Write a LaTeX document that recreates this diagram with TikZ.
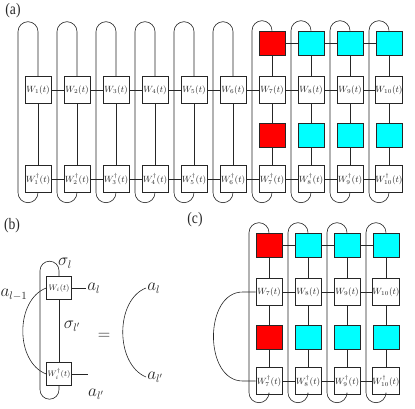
\documentclass[tikz,border=0pt]{standalone}
\usepackage{fontspec}
\newfontfamily\labfont{Liberation Serif}
\definecolor{boxred}{RGB}{255,0,0}
\definecolor{boxcyan}{RGB}{0,255,255}
\begin{document}
\begin{tikzpicture}[x=1pt,y=-1pt,line width=0.6pt,color=black!85,
  wbox/.style={draw,fill=white,minimum width=26pt,minimum height=27pt,inner sep=0pt,font=\fontsize{9}{10}\selectfont},
  bbox/.style={draw,fill=white,minimum width=25pt,minimum height=23pt,inner sep=0pt,font=\fontsize{8.5}{9}\selectfont},
  redbox/.style={draw,fill=boxred,minimum width=26pt,minimum height=24pt,inner sep=0pt},
  cybox/.style={draw,fill=boxcyan,minimum width=26pt,minimum height=24pt,inner sep=0pt},
  plab/.style={font=\labfont\fontsize{16}{18}\selectfont,inner sep=0pt},
  mlab/.style={font=\fontsize{16}{18}\selectfont,inner sep=1pt}]
\useasboundingbox (0,0) rectangle (415,409);
% ---------- panel (a)
\node[plab] (la) at (13,10.5) {\scalebox{0.85}[1]{(a)}};
\foreach \i in {1,...,10}{
  \pgfmathsetmacro\cx{38+39*(\i-1)}
  \node[wbox] (W\i) at (\cx,90) {$W_{\i}(t)$};
  \node[wbox] (D\i) at (\cx,179) {$W^{\dagger}_{\i}(t)$};
}
\node[redbox] (T7) at (272,43) {};
\node[redbox] (M7) at (272,135) {};
\foreach \i/\cx in {8/311,9/350,10/389}{
  \node[cybox] (T\i) at (\cx,43) {};
  \node[cybox] (M\i) at (\cx,135) {};
}
\foreach \i in {1,...,9}{
  \pgfmathtruncatemacro\j{\i+1}
  \draw (W\i) -- (W\j);
  \draw (D\i) -- (D\j);
}
\draw (T7) -- (T8) -- (T9) -- (T10);
\foreach \i in {1,...,6}{
  \draw (W\i) -- (D\i);
  \draw (W\i.north) -- ++(0,-44.5) arc[start angle=0,end angle=180,radius=10pt]
        -- ++(0,161) arc[start angle=180,end angle=360,radius=10pt] -- (D\i.south);
}
\foreach \i in {7,...,10}{
  \draw (T\i) -- (W\i) -- (M\i) -- (D\i);
  \draw (T\i.north) arc[start angle=0,end angle=180,radius=10pt]
        -- ++(0,162) arc[start angle=180,end angle=360,radius=10pt] -- (D\i.south);
}
% ---------- panel (b)
\node[plab] (lb) at (12,226) {\scalebox{0.85}[1]{(b)}};
\node[bbox] (bW) at (59,288) {$W_i(t)$};
\node[bbox] (bD) at (59,374) {$W^{\dagger}_i(t)$};
\draw (bW) -- (bD);
\draw (bW.north) -- ++(0,-5.5) arc[start angle=0,end angle=180,radius=9.5pt]
      -- ++(0,119) arc[start angle=180,end angle=360,radius=9.5pt] -- (bD.south);
\node[mlab] (sl) at (65,263) {$\sigma_l$};
\node[mlab] (slp) at (72,326) {$\sigma_{l'}$};
\node[mlab,anchor=west] (al) at (86,288) {$a_l$};
\draw (bW.east) -- (al.west);
\coordinate (e2) at (88,374);
\draw (bD.east) -- (e2);
\node[mlab] (alp) at (96,394) {$a_{l'}$};
\node[mlab] (alm) at (14,295) {$a_{l-1}$};
\draw (bW.west) .. controls (15,300) and (15,362) .. (bD.west);
\node[mlab] (eq) at (104,336) {$=$};
\node[mlab,anchor=west] (ar) at (146,288) {$a_l$};
\node[mlab,anchor=west] (arp) at (146,377) {$a_{l'}$};
\draw (ar.west) .. controls (115,300) and (115,364) .. (arp.west);
% ---------- panel (c)
\node[plab] (lc) at (195,220) {\scalebox{0.85}[1]{(c)}};
\foreach \i/\cx in {7/269,8/308,9/347,10/386}{
  \node[wbox] (cW\i) at (\cx,292) {$W_{\i}(t)$};
  \node[wbox] (cD\i) at (\cx,381) {$W^{\dagger}_{\i}(t)$};
}
\node[redbox] (cT7) at (269,245) {};
\node[redbox] (cM7) at (269,337) {};
\foreach \i/\cx in {8/308,9/347,10/386}{
  \node[cybox] (cT\i) at (\cx,245) {};
  \node[cybox] (cM\i) at (\cx,337) {};
}
\draw (cW7) -- (cW8) -- (cW9) -- (cW10);
\draw (cD7) -- (cD8) -- (cD9) -- (cD10);
\draw (cT7) -- (cT8) -- (cT9) -- (cT10);
\foreach \i in {7,...,10}{
  \draw (cT\i) -- (cW\i) -- (cM\i) -- (cD\i);
  \draw (cT\i.north) arc[start angle=0,end angle=180,radius=10pt]
        -- ++(0,160) arc[start angle=180,end angle=360,radius=10pt] -- (cD\i.south);
}
\draw (cW7.west) -- ++(-13,0) .. controls +(-39,0) and +(-39,0) .. ([xshift=-13pt]cD7.west) -- (cD7.west);
\end{tikzpicture}
\end{document}
